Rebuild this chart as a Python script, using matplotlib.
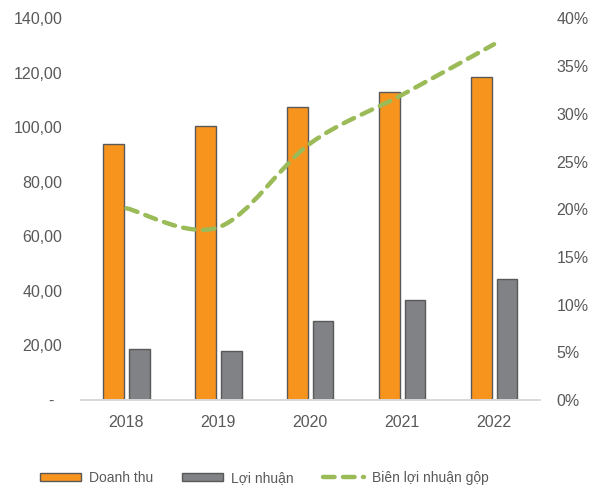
import numpy as np
import matplotlib.pyplot as plt
from matplotlib.path import Path
from matplotlib.patches import PathPatch, Patch
from matplotlib.lines import Line2D
from matplotlib.transforms import ScaledTranslation

plt.rcParams['font.family'] = ['Liberation Sans', 'DejaVu Sans']

years = ['2018', '2019', '2020', '2021', '2022']
doanh_thu = [94.0, 100.5, 107.5, 113.0, 118.5]
loi_nhuan = [18.6, 18.1, 29.0, 36.6, 44.3]
bien_ln = [20.1, 18.1, 26.9, 32.0, 37.3]  # %
left_ticks = [0, 20, 40, 60, 80, 100, 120, 140]
left_labels = ['-', '20,00', '40,00', '60,00', '80,00', '100,00', '120,00', '140,00']
right_ticks = [0, 5, 10, 15, 20, 25, 30, 35, 40]

orange = '#F7941D'
grey = '#808285'
green = '#9BBB59'
edge = '#595959'
txt = '#595959'

fig = plt.figure(figsize=(6.01, 4.86), dpi=100)
ax = fig.add_axes([0.134, 0.177, 0.7645, 0.785])
ax2 = ax.twinx()

x = np.arange(len(years))
w = 0.225
ax.bar(x - 0.14, doanh_thu, w, color=orange, edgecolor=edge, linewidth=1.0, zorder=2)
ax.bar(x + 0.14, loi_nhuan, w, color=grey, edgecolor=edge, linewidth=1.0, zorder=2)

ax.set_xlim(-0.5, len(years) - 0.5)
ax.set_ylim(0, 140)
ax.set_yticks(left_ticks)
ax.set_yticklabels(left_labels)
ax.set_xticks(x)
ax.set_xticklabels(years)

# smoothed line (bezier through the points, like Excel)
pts = np.column_stack([x, bien_ln])
verts = [pts[0]]
codes = [Path.MOVETO]
n = len(pts)
for i in range(n - 1):
    p0 = pts[max(i - 1, 0)]
    p1 = pts[i]
    p2 = pts[i + 1]
    p3 = pts[min(i + 2, n - 1)]
    verts += [p1 + (p2 - p0) / 6, p2 - (p3 - p1) / 6, p2]
    codes += [Path.CURVE4] * 3
ax2.add_patch(PathPatch(Path(verts, codes), fill=False, edgecolor=green,
                        linewidth=3.2, linestyle=(0, (2.6, 1.9)),
                        capstyle='round', zorder=3))
ax2.set_ylim(0, 40)
ax2.set_yticks(right_ticks)
ax2.set_yticklabels([f'{v}%' for v in right_ticks])

for a in (ax, ax2):
    for s in ('top', 'left', 'right'):
        a.spines[s].set_visible(False)
    a.spines['bottom'].set_color('#D9D9D9')
    a.spines['bottom'].set_linewidth(1.2)
    a.tick_params(length=0, labelsize=11.5, colors=txt)
ax.tick_params(axis='y', pad=13)
ax.tick_params(axis='x', pad=11)
ax2.tick_params(axis='y', pad=12)

# the "-" for zero sits a bit left, like the accounting format
t0 = ax.yaxis.get_major_ticks()[0].label1
t0.set_transform(t0.get_transform() + ScaledTranslation(-0.09, 0, fig.dpi_scale_trans))

handles = [Patch(facecolor=orange, edgecolor=edge, linewidth=1.0),
           Patch(facecolor=grey, edgecolor=edge, linewidth=1.0),
           Line2D([0], [0], color=green, linewidth=3.2, linestyle=(0, (2.6, 1.9)),
                  dash_capstyle='round')]
fig.legend(handles, ['Doanh thu', 'Lợi nhuận', 'Biên lợi nhuận gộp'],
           loc='center', bbox_to_anchor=(0.44, 0.017), ncol=3, frameon=False,
           fontsize=10, labelcolor=txt, handlelength=2.95, handleheight=0.45,
           handletextpad=0.57, columnspacing=2.1)

fig.savefig('out.png', dpi=100)
